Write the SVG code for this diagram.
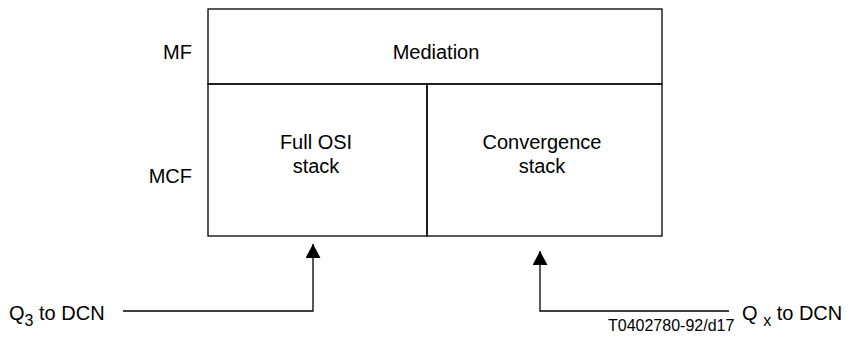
<svg xmlns="http://www.w3.org/2000/svg" width="854" height="340" viewBox="0 0 854 340">
<style>
text{font-family:"Liberation Sans",Arial,sans-serif;fill:#000}
.l{font-size:20px}
.s{font-size:16px}
.box{fill:none;stroke:#000;stroke-width:1.3}
.ln{fill:none;stroke:#000;stroke-width:1.3}
</style>
<defs>
<marker id="ah" markerWidth="16" markerHeight="15" refX="15" refY="8" orient="auto" markerUnits="userSpaceOnUse" viewBox="0 0 15 16">
<path d="M0,0 L15,8 L0,16 Z" fill="#000"/>
</marker>
</defs>
<rect width="854" height="340" fill="#fff"/>
<g id="labels">
<text class="l" x="192" y="59" text-anchor="end">MF</text>
<text class="l" x="192" y="183" text-anchor="end">MCF</text>
</g>
<g id="mediation">
<rect class="box" x="208" y="9" width="454" height="75"/>
<text class="l" x="436" y="59" text-anchor="middle">Mediation</text>
</g>
<g id="full-osi">
<rect class="box" x="208" y="84" width="219" height="152"/>
<text class="l" x="316" y="149" text-anchor="middle">Full OSI</text>
<text class="l" x="316" y="173" text-anchor="middle">stack</text>
</g>
<g id="convergence">
<rect class="box" x="427" y="84" width="235" height="152"/>
<text class="l" x="542" y="149" text-anchor="middle">Convergence</text>
<text class="l" x="542" y="173" text-anchor="middle">stack</text>
</g>
<g id="connectors">
<polyline class="ln" points="123,311 313,311 313,244" marker-end="url(#ah)"/>
<polyline class="ln" points="729,311 540,311 540,251" marker-end="url(#ah)"/>
</g>
<g id="q3">
<text class="l" x="9" y="320">Q<tspan class="s" dy="6">3</tspan><tspan dy="-6"> to DCN</tspan></text>
</g>
<g id="qx">
<text class="l" x="742" y="320">Q <tspan class="s" dy="6">x</tspan><tspan dy="-6"> to DCN</tspan></text>
</g>
<text class="s" x="608" y="331">T0402780-92/d17</text>
</svg>
